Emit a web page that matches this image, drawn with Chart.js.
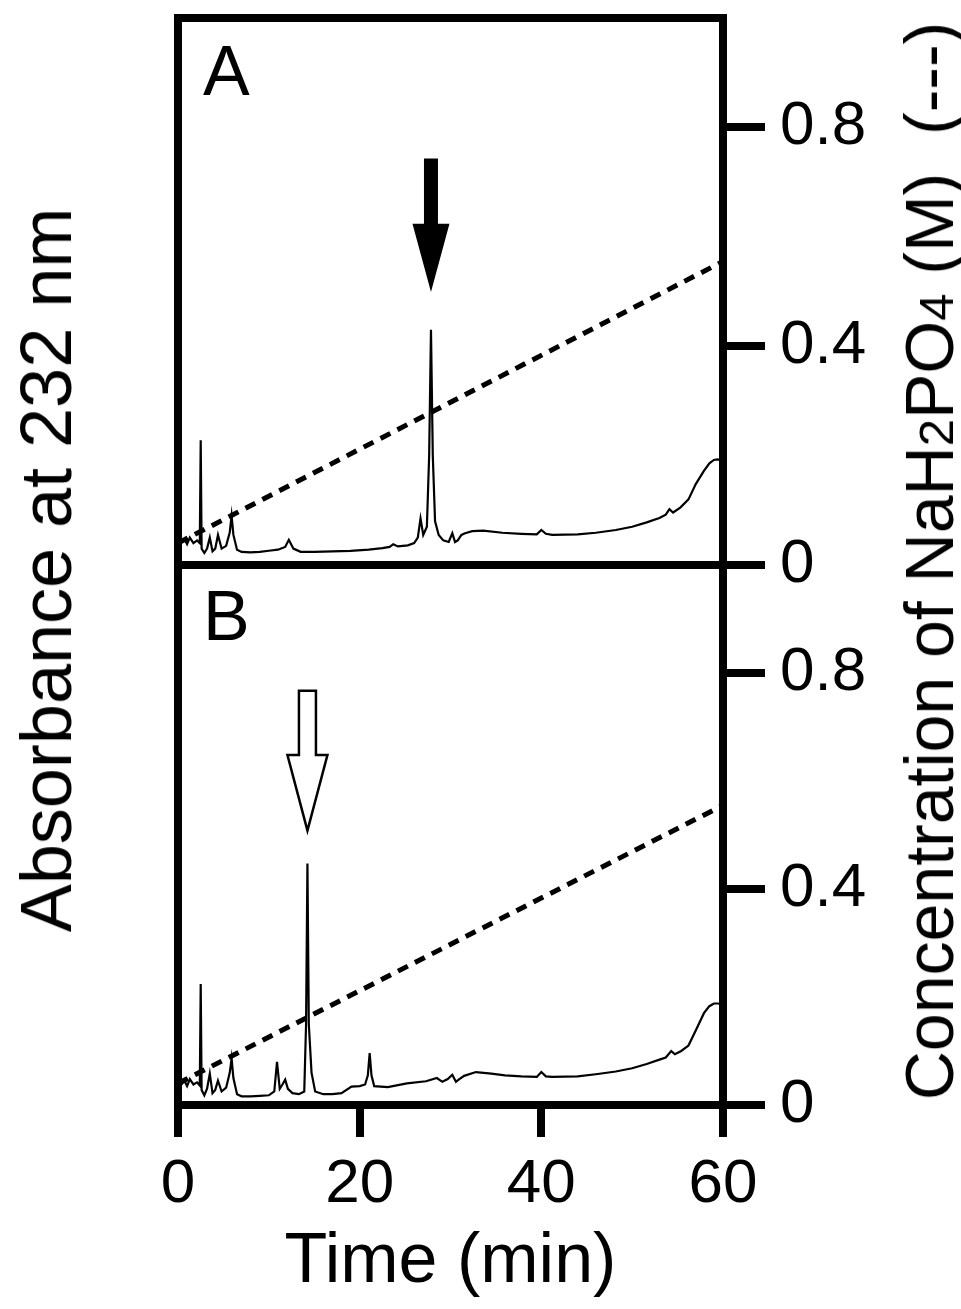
<!DOCTYPE html>
<html>
<head>
<meta charset="utf-8">
<title>Chromatogram</title>
<script src="https://cdn.jsdelivr.net/npm/chart.js@4.4.1/dist/chart.umd.min.js"></script>
<style>
  html, body { margin: 0; padding: 0; background: #fff; }
  #figure {
    position: relative;
    width: 961px;
    height: 1309px;
    background: #fff;
    overflow: hidden;
    font-family: "Liberation Sans", Arial, sans-serif;
    color: #000;
  }
  #figure canvas { position: absolute; left: 0; }
  #chartA { top: 0; }
  #chartB { top: 560px; }
  .axis-title {
    position: absolute;
    white-space: nowrap;
    line-height: 1;
    transform: translate(-50%, -50%) rotate(-90deg);
  }
  #leftTitle { left: 46px; top: 570px; font-size: 72px; }
  #rightTitle { left: 929px; top: 561px; font-size: 68px; }
  #rightTitle .sub { font-size: 0.72em; }
</style>
</head>
<body>
<div id="figure">
  <canvas id="chartA" width="961" height="620"></canvas>
  <canvas id="chartB" width="961" height="749"></canvas>
  <div id="leftTitle" class="axis-title">Absorbance at 232 nm</div>
  <div id="rightTitle" class="axis-title">Concentration of NaH<span class="sub">2</span>PO<span class="sub">4</span> (M)&nbsp;&nbsp;(---)</div>
</div>
<script>
// Panel A trace (time in min, absorbance)
const timeA = [0, 0.3, 0.7, 1.0, 1.3, 1.7, 2.1, 2.4, 2.5, 2.6, 2.9, 3.2, 3.5, 3.8, 4.1, 4.4, 4.8, 5.3, 5.7, 5.9,
  6.1, 6.5, 7.0, 8, 9, 10, 11, 11.8, 12.2, 12.7, 13.5, 15, 17, 19, 21, 22.5, 23.3, 23.7, 24.2, 25.3,
  26.0, 26.4, 26.7, 27.0, 27.4, 27.65, 27.85, 28.05, 28.3, 28.7, 29.2, 29.8, 30.2, 30.5, 30.8, 31.2, 31.6, 32.4, 33.6, 35.7,
  37.8, 39.5, 40.0, 40.5, 41.2, 44, 46, 48.2, 50, 51.6, 53.0, 53.7, 54.1, 54.5, 55.3, 56.2, 57.0, 57.9, 58.5, 59.0,
  59.4, 59.8];
const absA = [0.035, 0.040, 0.048, 0.038, 0.050, 0.040, 0.045, 0.040, 0.228, 0.030, 0.022, 0.030, 0.050, 0.025, 0.030, 0.055, 0.030, 0.035, 0.060, 0.090,
  0.055, 0.028, 0.024, 0.023, 0.024, 0.026, 0.028, 0.033, 0.046, 0.030, 0.024, 0.024, 0.025, 0.026, 0.028, 0.031, 0.033, 0.038, 0.034, 0.036,
  0.040, 0.050, 0.085, 0.055, 0.070, 0.200, 0.430, 0.200, 0.080, 0.055, 0.045, 0.042, 0.058, 0.042, 0.045, 0.055, 0.058, 0.062, 0.063, 0.059,
  0.057, 0.056, 0.064, 0.057, 0.055, 0.056, 0.059, 0.064, 0.070, 0.078, 0.086, 0.092, 0.102, 0.096, 0.105, 0.120, 0.148, 0.172, 0.186, 0.192,
  0.193, 0.192];

// Panel B trace
const timeB = [0, 0.3, 0.7, 1.0, 1.3, 1.7, 2.1, 2.4, 2.5, 2.6, 2.9, 3.2, 3.5, 3.8, 4.1, 4.4, 4.8, 5.3, 5.7, 5.9,
  6.1, 6.5, 7.0, 8, 9, 10, 10.6, 10.9, 11.2, 11.5, 11.8, 12.1, 12.6, 13.3, 13.9, 14.1, 14.25, 14.4, 14.7, 15.1,
  16, 17, 18, 19.1, 20.0, 20.6, 20.9, 21.1, 21.3, 21.6, 23.1, 25.2, 27.3, 28.5, 29.1, 29.7, 30.2, 30.6, 30.9, 31.5,
  32.8, 34.5, 36, 37.8, 39.5, 40.0, 40.5, 41.2, 44, 46, 48.2, 50, 51.6, 53.0, 53.7, 54.3, 54.7, 55.4, 56.2, 57.0,
  57.9, 58.5, 59.0, 59.4, 59.8];
const absB = [0.032, 0.036, 0.045, 0.035, 0.048, 0.038, 0.042, 0.036, 0.224, 0.028, 0.018, 0.030, 0.058, 0.022, 0.028, 0.045, 0.025, 0.032, 0.060, 0.086,
  0.050, 0.020, 0.016, 0.016, 0.017, 0.018, 0.025, 0.080, 0.030, 0.038, 0.047, 0.030, 0.022, 0.020, 0.025, 0.150, 0.447, 0.150, 0.060, 0.025,
  0.020, 0.020, 0.022, 0.034, 0.035, 0.038, 0.055, 0.096, 0.055, 0.035, 0.033, 0.040, 0.044, 0.050, 0.043, 0.048, 0.056, 0.043, 0.047, 0.054,
  0.061, 0.058, 0.055, 0.053, 0.052, 0.061, 0.053, 0.052, 0.053, 0.057, 0.062, 0.068, 0.076, 0.084, 0.088, 0.100, 0.094, 0.100, 0.110, 0.138,
  0.170, 0.183, 0.188, 0.188, 0.187];

// NaH2PO4 gradient (dashed line, right axis)
const gradTime = [0, 60];
const gradConc = [0.04, 0.555];

// Tick labels
const xTicks = [0, 20, 40, 60];
const concTicks = [0, 0.4, 0.8];
const concTickLabels = ['0', '0.4', '0.8'];

// Panel letters and the arrows over the peaks (time, top, head base, tip)
const panelLabels = ['A', 'B'];
const arrowTime = [27.85, 14.25];
const arrowTop = [0.743, 0.767];
const arrowBase = [0.624, 0.648];
const arrowTip = [0.499, 0.508];

const FONT = '"Liberation Sans", Arial, sans-serif';
Chart.defaults.font.family = FONT;
Chart.defaults.color = '#000';

function toPoints(xs, ys) {
    return xs.map((x, i) => ({ x: x, y: ys[i] }));
}

// Thick box around each panel
const framePlugin = {
    id: 'frame',
    afterDatasetsDraw(chart) {
        const a = chart.chartArea;
        const ctx = chart.ctx;
        ctx.save();
        ctx.strokeStyle = '#000';
        ctx.lineWidth = 8;
        ctx.lineJoin = 'miter';
        ctx.strokeRect(a.left, a.top, a.right - a.left, a.bottom - a.top);
        ctx.restore();
    }
};

// Panel letter and arrow
const panelPlugin = {
    id: 'panel',
    afterDraw(chart, args, opts) {
        const ctx = chart.ctx;
        const a = chart.chartArea;
        const i = opts.index;
        const xs = chart.scales.x;
        const ys = chart.scales.yAbs;

        ctx.save();
        ctx.fillStyle = '#000';
        ctx.font = '70px ' + FONT;
        ctx.textAlign = 'left';
        ctx.textBaseline = 'alphabetic';
        ctx.fillText(panelLabels[i], a.left + opts.labelX, a.top + opts.labelY);

        const px = xs.getPixelForValue(arrowTime[i]);
        const yTop = ys.getPixelForValue(arrowTop[i]);
        const yBase = ys.getPixelForValue(arrowBase[i]);
        const yTip = ys.getPixelForValue(arrowTip[i]);
        const sw = opts.shaftWidth / 2;
        const hw = opts.headWidth / 2;
        ctx.beginPath();
        ctx.moveTo(px - sw, yTop);
        ctx.lineTo(px + sw, yTop);
        ctx.lineTo(px + sw, yBase);
        ctx.lineTo(px + hw, yBase);
        ctx.lineTo(px, yTip);
        ctx.lineTo(px - hw, yBase);
        ctx.lineTo(px - sw, yBase);
        ctx.closePath();
        if (opts.hollow) {
            ctx.fillStyle = '#fff';
            ctx.fill();
            ctx.lineWidth = 2.5;
            ctx.strokeStyle = '#000';
            ctx.stroke();
        } else {
            ctx.fill();
        }
        ctx.restore();
    }
};

function makeChart(canvasId, times, abs, cfg) {
    return new Chart(document.getElementById(canvasId), {
        type: 'line',
        data: {
            datasets: [
                {
                    label: 'Absorbance at 232 nm',
                    data: toPoints(times, abs),
                    yAxisID: 'yAbs',
                    borderColor: '#000',
                    borderWidth: 2.2,
                    pointRadius: 0,
                    tension: 0
                },
                {
                    label: 'NaH2PO4 (M)',
                    data: toPoints(gradTime, gradConc),
                    yAxisID: 'yConc',
                    borderColor: '#000',
                    borderWidth: 5,
                    borderDash: [11, 8],
                    pointRadius: 0,
                    tension: 0
                }
            ]
        },
        options: {
            responsive: false,
            animation: false,
            devicePixelRatio: 1,
            layout: { padding: cfg.padding },
            plugins: {
                legend: { display: false },
                tooltip: { enabled: false },
                panel: cfg.panel
            },
            scales: {
                x: {
                    type: 'linear',
                    min: 0,
                    max: 60,
                    display: cfg.showX,
                    afterBuildTicks: s => { s.ticks = xTicks.map(v => ({ value: v })); },
                    afterFit: s => { s.height = cfg.xHeight; s.paddingLeft = 0; s.paddingRight = 0; },
                    grid: { drawOnChartArea: false, tickLength: 32, lineWidth: 8, color: '#000' },
                    border: { display: false },
                    ticks: { color: '#000', font: { size: 62 }, padding: 11, maxRotation: 0, autoSkip: false },
                    title: {
                        display: true,
                        text: 'Time (min)',
                        color: '#000',
                        font: { size: 70 },
                        padding: { top: 0, bottom: 4 }
                    }
                },
                yAbs: {
                    type: 'linear',
                    position: 'left',
                    min: 0,
                    max: 1,
                    display: false
                },
                yConc: {
                    type: 'linear',
                    position: 'right',
                    min: 0,
                    max: 1,
                    afterBuildTicks: s => { s.ticks = concTicks.map(v => ({ value: v })); },
                    afterFit: s => { s.width = 238; s.paddingTop = 0; s.paddingBottom = 0; },
                    grid: { drawOnChartArea: false, tickLength: 42, lineWidth: 8, color: '#000' },
                    border: { display: false },
                    ticks: {
                        color: '#000',
                        font: { size: 62 },
                        padding: 15,
                        callback: v => concTickLabels[concTicks.indexOf(v)]
                    }
                }
            }
        },
        plugins: [framePlugin, panelPlugin]
    });
}

makeChart('chartA', timeA, absA, {
    padding: { top: 18, left: 178, right: 0, bottom: 55 },
    showX: false,
    xHeight: 0,
    panel: { index: 0, labelX: 25, labelY: 77, shaftWidth: 14, headWidth: 37, hollow: false }
});

makeChart('chartB', timeB, absB, {
    padding: { top: 5, left: 178, right: 0, bottom: 0 },
    showX: true,
    xHeight: 204,
    panel: { index: 1, labelX: 25, labelY: 75, shaftWidth: 17, headWidth: 40, hollow: true }
});
</script>
</body>
</html>
